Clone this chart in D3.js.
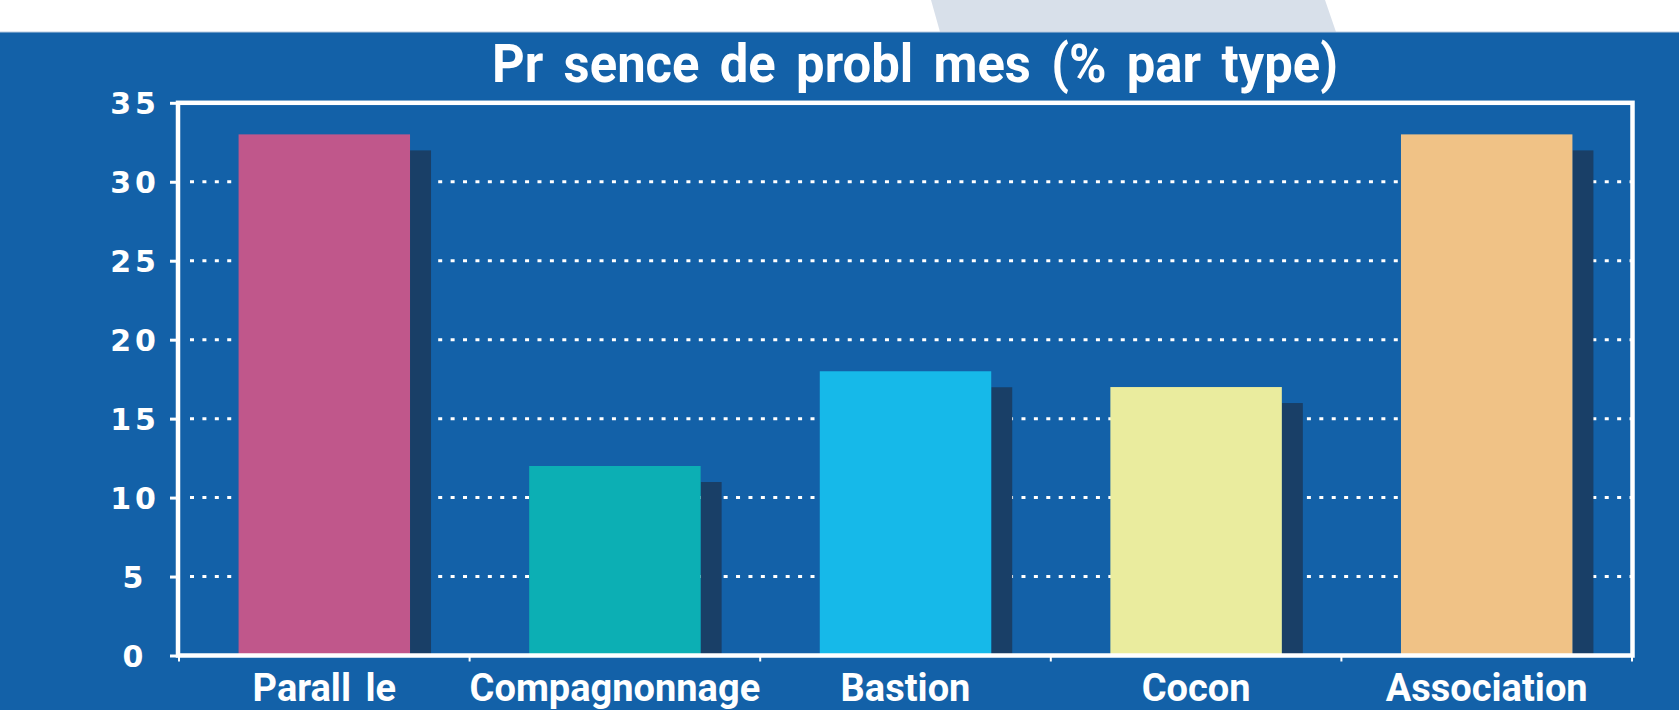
<!DOCTYPE html>
<html>
<head>
<meta charset="utf-8">
<script src="https://d3js.org/d3.v7.min.js"></script>
<style>
	body {
		padding: 0;
		margin: 0;
		background: #fff;
	}
	.grid line {
		stroke: #fff;
		stroke-width: 3;
		stroke-dasharray: 4 8.41;
	}
	.ytick text {
		fill: #fff;
		font-family: "DejaVu Sans", sans-serif;
		font-weight: bold;
		font-size: 30px;
		letter-spacing: 4px;
	}
	.xlabel {
		fill: #fff;
		font-family: Roboto, sans-serif;
		font-weight: bold;
		font-size: 38px;
		word-spacing: 5px;
	}
	.title {
		fill: #fff;
		font-family: Roboto, sans-serif;
		font-weight: bold;
		font-size: 53px;
		word-spacing: 8px;
	}
</style>
</head>
<body>
<div id="content"></div>
<script>

// Data
var categories = ['Parall le', 'Compagnonnage', 'Bastion', 'Cocon', 'Association'];
var values = [33, 12, 18, 17, 33];
var colors = ['#c0578b', '#0cafb4', '#16b9e9', '#eaec9e', '#f0c286'];
var yTicks = [0, 5, 10, 15, 20, 25, 30, 35];
var title = 'Pr sence de probl mes (% par type)';

var w = 1679;
var h = 710;
var shadowDrop = 16;
var shadowWidth = 21;

// SVG container
var svg = d3.select('#content')
	.append('svg')
	.attr('width', w)
	.attr('height', h);

// Top white strip with the pale slanted band, then blue panel
svg.append('rect')
	.attr('x', 0).attr('y', 0)
	.attr('width', w).attr('height', 32)
	.attr('fill', '#fff');
svg.append('path')
	.attr('d', 'M931,0 L1325,0 L1336,32 L940,32 Z')
	.attr('fill', '#d8e0ea');
svg.append('rect')
	.attr('x', 0).attr('y', 32)
	.attr('width', w).attr('height', h - 32)
	.attr('fill', '#1361a8');
svg.append('line')
	.attr('x1', 0).attr('x2', w)
	.attr('y1', 32).attr('y2', 32)
	.attr('stroke', '#b9cbe0')
	.attr('stroke-width', 1);

// Scales
var x = d3.scaleBand()
	.domain(categories)
	.range([179, 1632])
	.paddingInner(0.41)
	.paddingOuter(0.205);

var y = d3.scaleLinear()
	.domain([0, 35])
	.range([655.5, 102.8]);

// Dotted gridlines
svg.append('g')
	.attr('class', 'grid')
	.selectAll('line')
	.data(yTicks.filter(function(d) { return d > 0 && d < 35; }))
	.enter()
	.append('line')
	.attr('x1', 190)
	.attr('x2', 1632)
	.attr('y1', function(d) { return y(d); })
	.attr('y2', function(d) { return y(d); });

// Shadow bars
svg.selectAll('.shadow')
	.data(values)
	.enter()
	.append('rect')
	.attr('class', 'shadow')
	.attr('x', function(d, i) { return x(categories[i]) + x.bandwidth(); })
	.attr('y', function(d) { return y(d) + shadowDrop; })
	.attr('width', shadowWidth)
	.attr('height', function(d) { return y(0) - y(d) - shadowDrop; })
	.attr('fill', '#193f67');

// Bars
svg.selectAll('.bar')
	.data(values)
	.enter()
	.append('rect')
	.attr('class', 'bar')
	.attr('x', function(d, i) { return x(categories[i]); })
	.attr('y', function(d) { return y(d); })
	.attr('width', x.bandwidth())
	.attr('height', function(d) { return y(0) - y(d); })
	.attr('fill', function(d, i) { return colors[i]; });

// Frame around the plot
svg.append('rect')
	.attr('x', x.range()[0] - 1)
	.attr('y', y(35))
	.attr('width', x.range()[1] - x.range()[0] + 1.5)
	.attr('height', y(0) - y(35))
	.attr('fill', 'none')
	.attr('stroke', '#fff')
	.attr('stroke-width', 4.5);

// Y axis ticks and labels
var yAxis = svg.append('g')
	.attr('class', 'ytick')
	.attr('transform', 'translate(' + (x.range()[0] - 1) + ',0)')
	.call(d3.axisLeft(y).tickValues(yTicks).tickSize(8).tickPadding(0));
yAxis.select('.domain').remove();
yAxis.selectAll('.tick line')
	.attr('stroke', '#fff')
	.attr('stroke-width', 3);
yAxis.selectAll('.tick text')
	.attr('x', 133 - x.range()[0] + 1 + 2)
	.attr('text-anchor', 'middle')
	.attr('dy', '0.36em');

// X axis ticks at band edges
var edges = categories.map(function(c) { return x(c) - x.step() * x.paddingInner() / 2; })
	.concat([x.range()[1]]);
svg.selectAll('.xtick')
	.data(edges)
	.enter()
	.append('line')
	.attr('class', 'xtick')
	.attr('x1', function(d) { return d; })
	.attr('x2', function(d) { return d; })
	.attr('y1', y(0))
	.attr('y2', y(0) + 6)
	.attr('stroke', '#fff')
	.attr('stroke-width', 2);

// Category labels
svg.selectAll('.xlabel')
	.data(categories)
	.enter()
	.append('text')
	.attr('class', 'xlabel')
	.attr('x', function(d) { return x(d) + x.bandwidth() / 2; })
	.attr('y', 701)
	.attr('text-anchor', 'middle')
	.text(function(d) { return d; });

// Title
svg.append('text')
	.attr('class', 'title')
	.attr('x', 915)
	.attr('y', 82)
	.attr('text-anchor', 'middle')
	.attr('textLength', 846)
	.attr('lengthAdjust', 'spacingAndGlyphs')
	.text(title);

</script>
</body>
</html>
